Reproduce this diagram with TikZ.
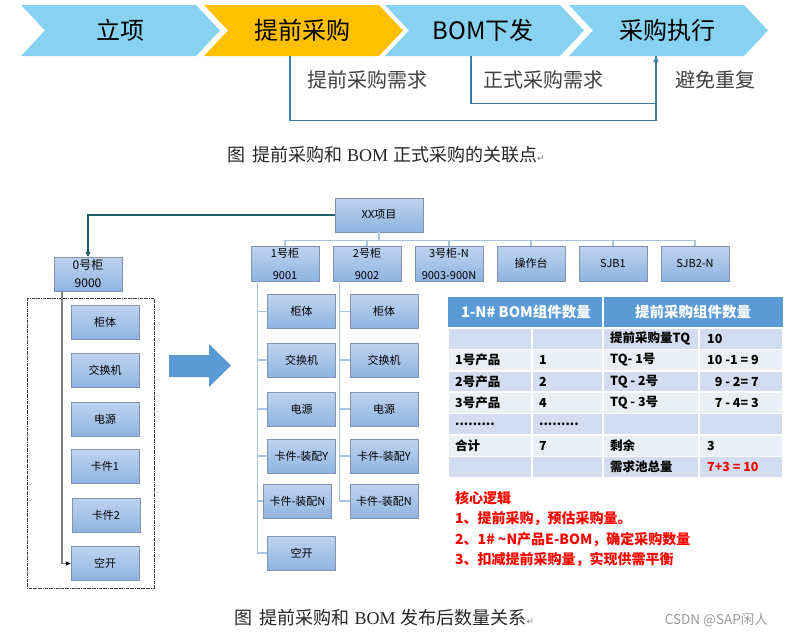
\documentclass[tikz,border=0pt]{standalone}
\usepackage{fontspec}
\setmainfont{Noto Sans CJK SC}
\newfontfamily\capfont{Liberation Serif}
\newfontfamily\symfont{DejaVu Sans}
\usetikzlibrary{arrows.meta}
\definecolor{sky}{HTML}{86D2F0}
\definecolor{gold}{HTML}{FFC000}
\definecolor{flowblue}{HTML}{3A7EA3}
\definecolor{needgray}{HTML}{404040}
\definecolor{parttop}{HTML}{BED4EF}
\definecolor{partbot}{HTML}{8FB3E0}
\definecolor{partline}{HTML}{8193AE}
\definecolor{tieblue}{HTML}{A7C4E5}
\definecolor{leadteal}{HTML}{1E5D6E}
\definecolor{hdrblue}{HTML}{5B9BD5}
\definecolor{bandA}{HTML}{D2DEEF}
\definecolor{bandB}{HTML}{EAEFF7}
\begin{document}
\begin{tikzpicture}[x=1pt,y=-1pt,
    stage/.style={minimum width=150,minimum height=51,inner sep=0,font=\fontsize{24}{26}\selectfont},
    need/.style={inner sep=0,text=needgray,font=\fontsize{20}{22}\selectfont},
    flow/.style={draw=flowblue,line width=1.3},
    part/.style={draw=partline,top color=parttop,bottom color=partbot,minimum width=68,minimum height=34,inner sep=1,align=center,font=\fontsize{11}{13}\selectfont},
    tie/.style={draw=tieblue,line width=1.3},
    lead/.style={draw=leadteal,line width=1.6,-{Triangle[length=5,width=5]}},
    rail/.style={draw=gray,line width=1.5,-{Triangle[length=5,width=4,color=black]}},
    cell/.style={anchor=west,inner sep=0,font=\bfseries\fontsize{12.5}{14}\selectfont},
    head/.style={inner sep=0,text=white,font=\bfseries\fontsize{14.5}{16}\selectfont},
    caption/.style={inner sep=0,text=black!85,font=\fontsize{18}{20}\selectfont}]
    \useasboundingbox (0,0) rectangle (785,638);

    \foreach \L/\col in {21/sky,204/gold,385/sky,569/sky}
        \fill[\col] (\L,5) -- ++(175,0) -- ++(24,25.5) -- ++(-24,25.5) -- ++(-175,0) -- ++(24,-25.5) -- cycle;

    \node[stage] (c1) at (120,30.5) {立项};
    \node[stage] (c2) at (302,30.5) {提前采购};
    \node[stage] (c3) at (483,30.5) {BOM下发};
    \node[stage] (c4) at (667,30.5) {采购执行};

    \draw[flow,-{Triangle[length=6,width=5]}] ([xshift=-12]c2.south) -- ++(0,64) -| ([xshift=-11]c4.south);
    \draw[flow] ([xshift=-12]c3.south) -- ++(0,47) -| ([xshift=-11]c4.south);

    \node[need] (n1) at (367,80) {提前采购需求};
    \node[need] (n2) at (543,80) {正式采购需求};
    \node[need] (n3) at (715,80) {避免重复};

    \node[caption] (cap1) at (386,155) {图\hspace{7pt}提前采购和\hspace{5pt}{\capfont BOM}\hspace{5pt}正式采购的关联点{\symfont\fontsize{9}{9}\selectfont\color{gray}↵}};

    \node[part,minimum width=88] (xx) at (379,215) {XX项目};
    \node[part,font=\fontsize{12}{14}\selectfont] (z0) at (88,274) {0号柜\\[4pt]9000};

    \node[part,minimum height=35] (b1) at (285,263.5) {1号柜\\[9pt]9001};
    \node[part,minimum height=35] (b2) at (367,263.5) {2号柜\\[9pt]9002};
    \node[part,minimum height=35] (b3) at (449,263.5) {3号柜-N\\[9pt]9003-900N};
    \node[part,minimum height=35] (b4) at (531,263.5) {操作台};
    \node[part,minimum height=35] (b5) at (613,263.5) {SJB1};
    \node[part,minimum height=35] (b6) at (695,263.5) {SJB2-N};

    \draw[lead] (xx.west) -| (z0.north);
    \foreach \k in {b1,b2,b3,b4,b5,b6}
        \draw[tie] (xx.south) -- ++(0,8) -| (\k.north);

    \node[part] (p1) at (301.5,311.5) {柜体};
    \node[part] (p2) at (301.5,360) {交换机};
    \node[part] (p3) at (301.5,409) {电源};
    \node[part] (p4) at (301.5,456) {卡件-装配Y};
    \node[part] (p5) at (297.5,501) {卡件-装配N};
    \node[part] (p6) at (301.5,553) {空开};

    \node[part] (q1) at (384,311.5) {柜体};
    \node[part] (q2) at (384,360) {交换机};
    \node[part] (q3) at (384,409) {电源};
    \node[part] (q4) at (384,456) {卡件-装配Y};
    \node[part] (q5) at (384,501) {卡件-装配N};

    \foreach \k in {p1,p2,p3,p4,p5,p6}
        \draw[tie] ([xshift=7]b1.south west) |- (\k.west);
    \foreach \k in {q1,q2,q3,q4,q5}
        \draw[tie] ([xshift=7]b2.south west) |- (\k.west);

    \draw[black!75,densely dashdotted] (27,298) rectangle (154,588);
    \node[part] (l1) at (105,322) {柜体};
    \node[part] (l2) at (105,370) {交换机};
    \node[part] (l3) at (105,419) {电源};
    \node[part] (l4) at (105,466.5) {卡件1};
    \node[part] (l5) at (106,515) {卡件2};
    \node[part] (l6) at (105,563.5) {空开};
    \draw[rail] ([xshift=8]z0.south west) |- (l6.west);

    \fill[hdrblue] (169,355) -- (209,355) -- (209,344) -- (231,365.5) -- (209,387) -- (209,377) -- (169,377) -- cycle;

    \fill[hdrblue] (448,297) rectangle (602.2,327);
    \fill[hdrblue] (603.8,297) rectangle (783,327);
    \node[head] (h1) at (526,312) {1-N\# BOM组件数量};
    \node[head] (h2) at (693,312) {提前采购组件数量};

    \foreach \t/\col in {328/bandA,349.4/bandB,370.8/bandA,392.2/bandB,413.6/bandA,435/bandB,456.4/bandA}
        \foreach \xa/\xb in {448/532,532/603,603/699,699/783}
            \fill[\col] (\xa+0.8,\t+0.8) rectangle (\xb-0.8,\t+20.6);

    \foreach \t/\a/\b/\c/\d [count=\i] in {
        328/{}/{}/提前采购量TQ/10,
        349.4/1号产品/1/TQ- 1号/10 -1 = 9,
        370.8/2号产品/2/TQ - 2号/{\phantom{1}9 - 2= 7},
        392.2/3号产品/4/TQ - 3号/{\phantom{1}7 - 4= 3},
        413.6/{.........}/{.........}/{}/{},
        435/合计/7/剩余/3,
        456.4/{}/{}/需求池总量/{\color{red}7+3 = 10}} {
        \node[cell] (a\i) at (455,\t+10.7) {\a};
        \node[cell] (b\i) at (539,\t+10.7) {\b};
        \node[cell] (c\i) at (610,\t+10.7) {\c};
        \node[cell] (d\i) at (707,\t+10.7) {\d};
    }

    \node[anchor=north west,inner sep=0,align=left,text=red,font=\bfseries\fontsize{14}{20.5}\selectfont] (logic) at (455,491) {核心逻辑\\1、提前采购，预估采购量。\\2、1\# \textasciitilde N产品E-BOM，确定采购数量\\3、扣减提前采购量，实现供需平衡};

    \node[caption] (cap2) at (384.5,618) {图\hspace{7pt}提前采购和\hspace{5pt}{\capfont BOM}\hspace{5pt}发布后数量关系{\symfont\fontsize{9}{9}\selectfont\color{gray}↵}};
    \node[anchor=east,inner sep=0,text=black!40,font=\fontsize{13.5}{15}\selectfont] (mark) at (768,620) {CSDN @SAP闲人};
\end{tikzpicture}
\end{document}
